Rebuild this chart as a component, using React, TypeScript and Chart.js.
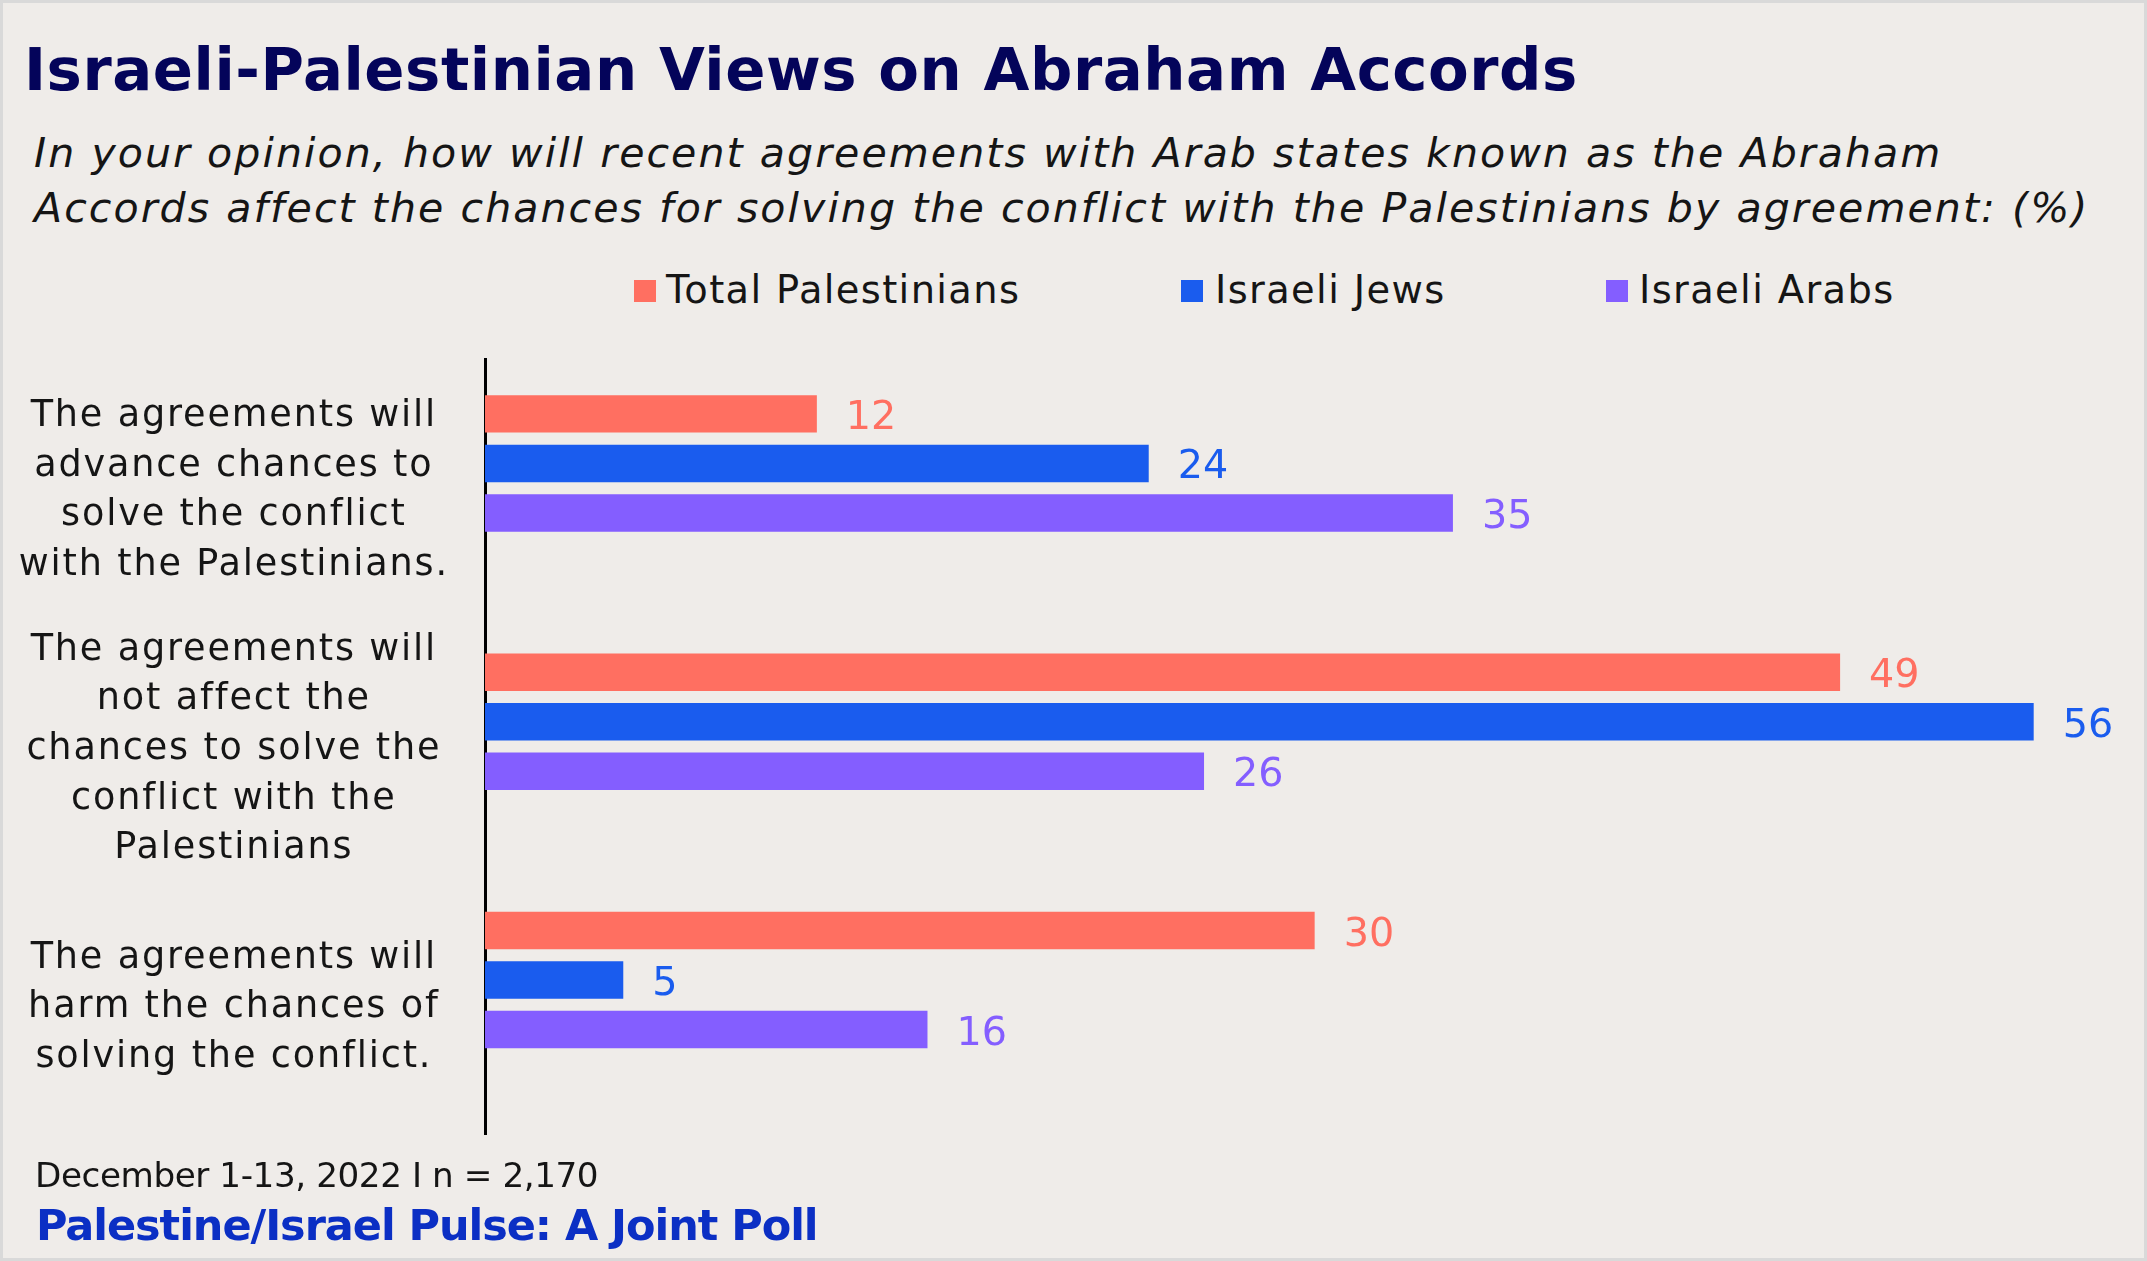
import React, { useEffect, useRef } from "react";
import { Chart, registerables } from "chart.js";
Chart.register(...registerables);

const categories = [
  ["The agreements will", "advance chances to", "solve the conflict", "with the Palestinians."],
  ["The agreements will", "not affect the", "chances to solve the", "conflict with the", "Palestinians"],
  ["The agreements will", "harm the chances of", "solving the conflict."],
];
const seriesNames = ["Total Palestinians", "Israeli Jews", "Israeli Arabs"];
const totalPalestinians = [12, 49, 30];
const israeliJews = [24, 56, 5];
const israeliArabs = [35, 26, 16];
const seriesValues = [totalPalestinians, israeliJews, israeliArabs];
const seriesColors = ["#FF6F61", "#1A5CEE", "#845EFF"];

const FONT = "DejaVu Sans";
const ASC = 0.93;
const DESC = 0.24;
const TEXT = "#151515";
const TICK_LS = "1.85px";

function Txt(props: any) {
  const { x, baseline, size, weight = 400, italic = false, color = TEXT, ls = 0, text } = props;
  const top = baseline - (size * (1 + ASC - DESC)) / 2;
  return (
    <div
      style={{
        position: "absolute",
        left: x,
        top,
        fontFamily: FONT,
        fontSize: size,
        lineHeight: `${size}px`,
        fontWeight: weight,
        fontStyle: italic ? "italic" : "normal",
        color,
        letterSpacing: ls,
        whiteSpace: "nowrap",
      }}
    >
      {text}
    </div>
  );
}

const tickSpacing = {
  id: "tickSpacing",
  beforeLayout(chart: any) {
    chart.ctx.letterSpacing = TICK_LS;
  },
  beforeDraw(chart: any) {
    chart.ctx.letterSpacing = TICK_LS;
  },
};

const valueLabels = {
  id: "valueLabels",
  afterDatasetsDraw(chart: any) {
    const ctx = chart.ctx;
    chart.data.datasets.forEach((ds: any, i: number) => {
      if (ds.spacer) return;
      const meta = chart.getDatasetMeta(i);
      meta.data.forEach((bar: any, j: number) => {
        const v = ds.data[j];
        if (v == null) return;
        ctx.save();
        ctx.letterSpacing = "0px";
        ctx.font = `400 39.7px "${FONT}"`;
        ctx.fillStyle = ds.backgroundColor;
        ctx.textAlign = "left";
        ctx.textBaseline = "alphabetic";
        ctx.fillText(String(v), bar.x + 29, bar.y + 15);
        ctx.restore();
      });
    });
  },
};

export default function App() {
  const ref = useRef<HTMLCanvasElement>(null);
  useEffect(() => {
    if (!ref.current) return;
    const cp = 0.7665;
    const bp = 0.756;
    const chart = new Chart(ref.current, {
      type: "bar",
      data: {
        labels: categories as any,
        datasets: [
          ...seriesNames.map((name, i) => ({
            label: name,
            data: seriesValues[i],
            backgroundColor: seriesColors[i],
            categoryPercentage: cp,
            barPercentage: bp,
          })),
          {
            label: "",
            spacer: true,
            data: [null, null, null],
            backgroundColor: "rgba(0,0,0,0)",
            categoryPercentage: cp,
            barPercentage: bp,
          } as any,
        ],
      },
      options: {
        indexAxis: "y",
        responsive: false,
        animation: false,
        events: [],
        layout: { padding: { top: 359, bottom: 127, left: 0, right: 58 } },
        plugins: { legend: { display: false }, title: { display: false }, tooltip: { enabled: false } },
        scales: {
          x: {
            display: false,
            min: 0,
            max: 58,
            afterFit(scale: any) {
              scale.height = 0;
            },
          },
          y: {
            offset: true,
            grid: { display: false, drawTicks: false },
            border: { display: true, color: "#000", width: 3 },
            ticks: {
              crossAlign: "center",
              padding: 36,
              labelOffset: 3,
              color: TEXT,
              font: { family: FONT, size: 36.6, lineHeight: 1.356 },
            },
            afterFit(scale: any) {
              scale.width = 485;
              scale.paddingTop = 0;
              scale.paddingBottom = 0;
            },
          },
        },
      },
      plugins: [tickSpacing, valueLabels],
    });
    return () => chart.destroy();
  }, []);

  return (
    <div
      style={{
        position: "fixed",
        left: 0,
        top: 0,
        width: 2147,
        height: 1261,
        background: "#EFECE9",
        boxShadow: "inset 0 0 0 3px #D9D9D9",
        overflow: "hidden",
      }}
    >
      <Txt x={24} baseline={90} size={59.3} weight={700} ls={0.55} color="#04045A" text="Israeli-Palestinian Views on Abraham Accords" />
      <Txt x={34} baseline={168} size={41.1} italic ls={2.05} text="In your opinion, how will recent agreements with Arab states known as the Abraham" />
      <Txt x={34} baseline={223} size={41.1} italic ls={2.05} text="Accords affect the chances for solving the conflict with the Palestinians by agreement: (%)" />
      {seriesNames.map((n, i) => (
        <React.Fragment key={n}>
          <div style={{ position: "absolute", left: [634, 1181, 1606][i], top: 280, width: 22, height: 22, background: seriesColors[i] }} />
          <Txt x={[666, 1215, 1639][i]} baseline={303} size={38.4} ls={1.37} text={n} />
        </React.Fragment>
      ))}
      <canvas ref={ref} width={2147} height={1261} style={{ position: "absolute", left: 0, top: 0, width: 2147, height: 1261 }} />
      <Txt x={35} baseline={1187} size={34.2} ls={-0.42} text="December 1-13, 2022 I n = 2,170" />
      <Txt x={36} baseline={1240} size={43} weight={700} ls={-1.05} color="#0B2FC4" text="Palestine/Israel Pulse: A Joint Poll" />
    </div>
  );
}
